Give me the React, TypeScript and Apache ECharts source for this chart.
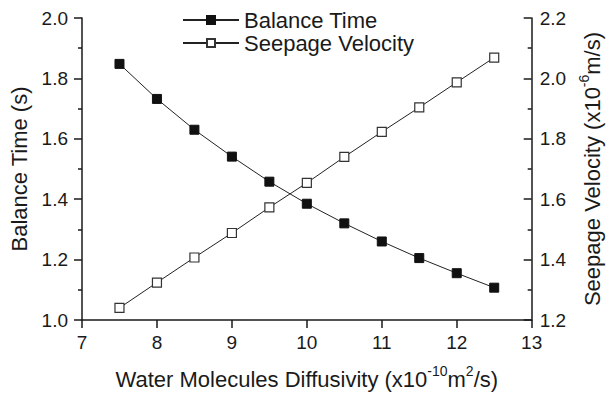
import React, { useEffect, useRef } from "react";
import * as echarts from "echarts";

const diffusivity = [7.5, 8, 8.5, 9, 9.5, 10, 10.5, 11, 11.5, 12, 12.5];
const balanceTime = [1.848, 1.732, 1.63, 1.541, 1.458, 1.385, 1.32, 1.26, 1.205, 1.155, 1.107];
const seepageVelocity = [1.24, 1.324, 1.407, 1.488, 1.573, 1.654, 1.74, 1.823, 1.904, 1.987, 2.069];

const FONT = "Liberation Sans, Arial, sans-serif";
const INK = "#1a1a1a";

export default function App() {
  const ref = useRef<HTMLDivElement>(null);
  useEffect(() => {
    if (!ref.current) return;
    const chart = echarts.init(ref.current, undefined, { renderer: "svg" });
    const lineStyle = { color: INK, width: 1.5 };
    const labelBase = { color: INK, fontSize: 19, fontFamily: FONT };
    chart.setOption({
      animation: false,
      textStyle: { fontFamily: FONT },
      grid: { left: 80, right: 76, top: 18, bottom: 73 },
      legend: {
        orient: "vertical",
        left: 177,
        top: 4,
        itemWidth: 56,
        itemHeight: 10,
        itemGap: 1,
        textStyle: { fontSize: 22, color: INK, fontFamily: FONT },
        data: ["Balance Time", "Seepage Velocity"],
      },
      xAxis: {
        type: "value",
        min: 7,
        max: 13,
        interval: 1,
        axisLine: { show: true, lineStyle },
        axisTick: { show: true, inside: false, length: 8, lineStyle },
        splitLine: { show: false },
        axisLabel: { ...labelBase, margin: 13 },
        name: "{a|Water Molecules Diffusivity (x10}{s|-10}{a|m}{s|2}{a|/s)}",
        nameLocation: "middle",
        nameGap: 44,
        nameTextStyle: {
          rich: {
            a: { fontSize: 22, color: INK, fontFamily: FONT, lineHeight: 26, verticalAlign: "bottom" },
            s: { fontSize: 14, color: INK, fontFamily: FONT, lineHeight: 26, verticalAlign: "top" },
          },
        },
      },
      yAxis: [
        {
          type: "value",
          min: 1.0,
          max: 2.0,
          interval: 0.2,
          position: "left",
          axisLine: { show: true, lineStyle },
          axisTick: { show: true, inside: false, length: 8, lineStyle },
          minorTick: { show: true, splitNumber: 2, length: 4, lineStyle },
          splitLine: { show: false },
          axisLabel: { ...labelBase, margin: 14, formatter: (v: number) => v.toFixed(1) },
          name: "Balance Time (s)",
          nameLocation: "middle",
          nameGap: 52,
          nameTextStyle: { fontSize: 22, color: INK, fontFamily: FONT },
        },
        {
          type: "value",
          min: 1.2,
          max: 2.2,
          interval: 0.2,
          position: "right",
          axisLine: { show: true, lineStyle },
          axisTick: { show: true, inside: true, length: 8, lineStyle },
          minorTick: { show: true, splitNumber: 2, length: 4, lineStyle },
          splitLine: { show: false },
          axisLabel: { ...labelBase, margin: 8, formatter: (v: number) => v.toFixed(1) },
          name: "{a|Seepage Velocity (x10}{s|-6}{a|m/s)}",
          nameLocation: "middle",
          nameGap: 44,
          nameTextStyle: {
            rich: {
              a: { fontSize: 22, color: INK, fontFamily: FONT, lineHeight: 26, verticalAlign: "bottom" },
              s: { fontSize: 14, color: INK, fontFamily: FONT, lineHeight: 26, verticalAlign: "top" },
            },
          },
        },
      ],
      series: [
        {
          name: "Balance Time",
          type: "line",
          yAxisIndex: 0,
          data: diffusivity.map((x, i) => [x, balanceTime[i]]),
          symbol: "rect",
          symbolSize: 9,
          lineStyle: { color: "#222", width: 1 },
          itemStyle: { color: "#111", borderColor: "#111", borderWidth: 1 },
        },
        {
          name: "Seepage Velocity",
          type: "line",
          yAxisIndex: 1,
          data: diffusivity.map((x, i) => [x, seepageVelocity[i]]),
          symbol: "rect",
          symbolSize: 9,
          lineStyle: { color: "#222", width: 1 },
          itemStyle: { color: "#ffffff", borderColor: "#333", borderWidth: 1.2 },
        },
      ],
    });
    return () => chart.dispose();
  }, []);
  return <div ref={ref} style={{ width: 611, height: 395, position: "fixed", left: 0, top: 0, background: "#fff" }} />;
}
